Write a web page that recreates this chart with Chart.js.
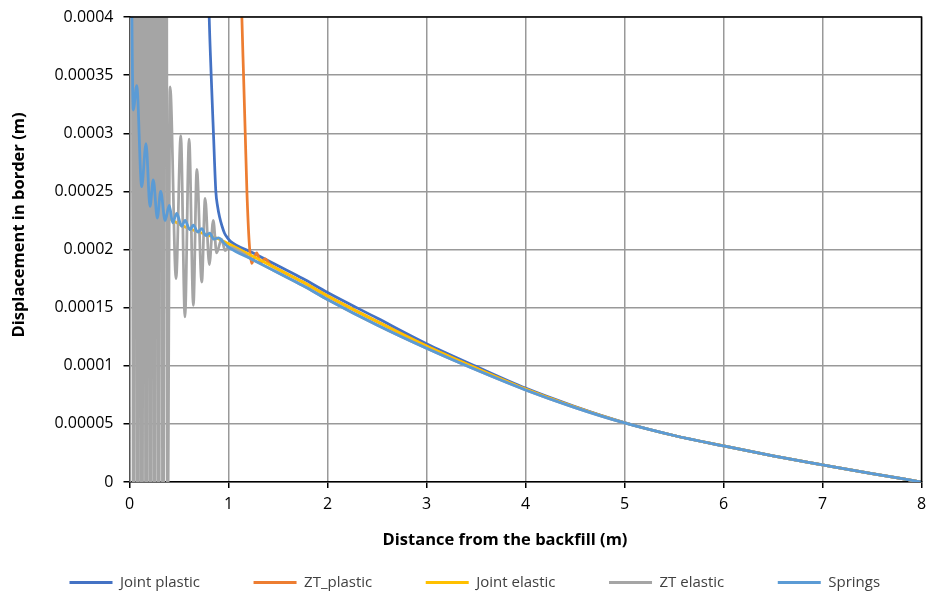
<!DOCTYPE html>
<html><head><meta charset="utf-8">
<script src="https://cdn.jsdelivr.net/npm/chart.js@4"></script>
<style>html,body{margin:0;padding:0;background:#fff}#wrap{width:927px;height:592px;position:relative}</style>
</head><body><div id="wrap"><canvas id="c"></canvas></div>
<script>
// ---- data ----
const seriesNames = ['Joint plastic', 'ZT_plastic', 'Joint elastic', 'ZT elastic', 'Springs'];
const seriesColors = ['#4472C4', '#ED7D31', '#FFC000', '#A5A5A5', '#5B9BD5'];

const xTickLabels = ['0', '1', '2', '3', '4', '5', '6', '7', '8'];
const yTickLabels = ['0', '0.00005', '0.0001', '0.00015', '0.0002', '0.00025', '0.0003', '0.00035', '0.0004'];

const jointPlasticX = [0.80, 0.805, 0.825, 0.848, 0.872, 0.89, 0.91, 0.935, 0.96, 0.99, 1.02, 1.25, 1.5, 1.75, 2.0, 2.5, 3.0, 3.5, 4.0, 4.5, 5.0, 5.5, 6.0, 6.5, 7.0, 7.5, 8.0];
const jointPlasticY = [0.00042, 0.0004, 0.00035, 0.0003, 0.00025, 0.000237, 0.000228, 0.00022, 0.000214, 0.00021, 0.000207, 0.000197, 0.000186, 0.000175, 0.000163, 0.000141, 0.000119, 0.0000995, 0.0000808, 0.000065, 0.0000512, 0.00004, 0.000031, 0.0000225, 0.0000148, 0.0000072, 0];

const ztPlasticX = [1.13, 1.135, 1.152, 1.169, 1.186, 1.21, 1.234, 1.26, 1.285, 1.325, 1.37, 1.42, 1.5, 1.75, 2.0, 2.5, 3.0, 3.5, 4.0, 4.5, 5.0, 5.5, 6.0, 6.5, 7.0, 7.5, 8.0];
const ztPlasticY = [0.00042, 0.0004, 0.00035, 0.0003, 0.00025, 0.000205, 0.000188, 0.000193, 0.000197, 0.000189, 0.000192, 0.000187, 0.000183, 0.000172, 0.00016, 0.000138, 0.000117, 0.000098, 0.00008, 0.0000645, 0.000051, 0.00004, 0.000031, 0.0000225, 0.0000148, 0.0000072, 0];

const jointElasticX = [0.08, 0.083, 0.095, 0.106, 0.13, 0.16, 0.2, 0.25, 0.3, 0.4, 0.5, 0.6, 0.7, 0.8, 0.9, 1.0, 1.25, 1.5, 1.75, 2.0, 2.5, 3.0, 3.5, 4.0, 4.5, 5.0, 5.5, 6.0, 6.5, 7.0, 7.5, 8.0];
const jointElasticY = [0.00043, 0.0004, 0.00034, 0.000307, 0.000285, 0.000265, 0.00025, 0.00024, 0.000234, 0.000227, 0.000222, 0.000218, 0.000215, 0.000212, 0.000209, 0.000205, 0.000194, 0.000183, 0.000172, 0.00016, 0.000138, 0.000117, 0.000098, 0.00008, 0.0000645, 0.000051, 0.00004, 0.000031, 0.0000225, 0.0000148, 0.0000072, 0];

const ztElasticX = [0, 0.022, 0.042, 0.063, 0.085, 0.106, 0.126, 0.146, 0.168, 0.19, 0.21, 0.23, 0.252, 0.274, 0.295, 0.315, 0.34, 0.364, 0.385, 0.41, 0.47, 0.518, 0.56, 0.602, 0.645, 0.68, 0.73, 0.764, 0.806, 0.846, 0.88, 0.93, 0.965, 1.0, 1.25, 1.5, 1.75, 2.0, 2.5, 3.0, 3.5, 4.0, 4.5, 5.0, 5.5, 6.0, 6.5, 7.0, 7.5, 8.0];
const ztElasticY = [0, 0.0012, -0.0003, 0.0012, -0.0003, 0.0012, -0.0003, 0.0012, -0.0003, 0.0012, -0.0003, 0.0012, -0.0003, 0.0012, -0.0003, 0.0012, -0.0003, 0.0012, -0.00005, 0.00034, 0.000175, 0.000298, 0.000142, 0.000295, 0.000152, 0.000269, 0.000172, 0.000244, 0.000187, 0.000225, 0.000197, 0.000209, 0.000199, 0.000202, 0.000191, 0.00018, 0.000169, 0.000157, 0.000135, 0.000115, 0.0000965, 0.0000792, 0.000064, 0.0000508, 0.00004, 0.000031, 0.0000225, 0.0000148, 0.0000072, 0];

const springsX = [0.015, 0.038, 0.073, 0.123, 0.167, 0.207, 0.24, 0.281, 0.315, 0.359, 0.402, 0.436, 0.477, 0.527, 0.561, 0.611, 0.644, 0.69, 0.73, 0.77, 0.81, 0.85, 0.9, 0.95, 1.0, 1.25, 1.5, 1.75, 2.0, 2.5, 3.0, 3.5, 4.0, 4.5, 5.0, 5.5, 6.0, 6.5, 7.0, 7.5, 8.0];
const springsY = [0.00048, 0.00032, 0.000341, 0.000254, 0.000291, 0.000237, 0.00026, 0.000227, 0.00025, 0.000225, 0.000238, 0.000223, 0.000231, 0.00022, 0.000225, 0.000217, 0.000221, 0.000215, 0.000218, 0.000212, 0.000214, 0.000209, 0.00021, 0.000206, 0.000202, 0.000191, 0.00018, 0.000169, 0.000157, 0.000135, 0.000115, 0.0000965, 0.0000792, 0.000064, 0.0000508, 0.00004, 0.000031, 0.0000225, 0.0000148, 0.0000072, 0];

const xTitle = 'Distance from the backfill (m)';
const yTitle = 'Displacement in border (m)';

// ---- build chart ----
const seriesX = [jointPlasticX, ztPlasticX, jointElasticX, ztElasticX, springsX];
const seriesY = [jointPlasticY, ztPlasticY, jointElasticY, ztElasticY, springsY];

const datasets = seriesNames.map((name, k) => ({
  label: name,
  data: seriesX[k].map((x, i) => ({ x: x, y: seriesY[k][i] })),
  borderColor: seriesColors[k],
  backgroundColor: seriesColors[k],
  borderWidth: 2.75,
  pointRadius: 0,
  fill: false,
  cubicInterpolationMode: 'monotone',
  order: seriesNames.length - 1 - k
}));

const FONT = "'Open Sans'";

const framePlugin = {
  id: 'frame',
  afterLayout(chart) {
    const lg = chart.legend;
    if (lg) { lg.left += 16; lg.right += 16; }
  },
  afterDatasetsDraw(chart) {
    const { ctx, chartArea: a } = chart;
    ctx.save();
    ctx.strokeStyle = '#000';
    ctx.lineWidth = 1.5;
    ctx.beginPath();
    ctx.moveTo(a.left, a.top);
    ctx.lineTo(a.right, a.top);
    ctx.lineTo(a.right, a.bottom);
    ctx.stroke();
    ctx.restore();
  },
  afterDraw(chart) {
    const ctx = chart.ctx;
    ctx.save();
    ctx.fillStyle = '#000';
    ctx.font = 'bold 16.5px ' + FONT;
    ctx.textAlign = 'center';
    ctx.textBaseline = 'middle';
    ctx.fillText(xTitle, 505, 540);
    ctx.translate(19.5, 225);
    ctx.rotate(-Math.PI / 2);
    ctx.fillText(yTitle, 0, 0);
    ctx.restore();
  }
};

const padBottom = -8;
new Chart(document.getElementById('c'), {
  type: 'line',
  data: { datasets: datasets },
  plugins: [framePlugin],
  options: {
    responsive: true,
    maintainAspectRatio: false,
    animation: false,
    events: [],
    layout: { padding: { left: 0, right: 5.5, top: 17, bottom: padBottom } },
    plugins: {
      tooltip: { enabled: false },
      legend: {
        position: 'bottom',
        align: 'start',
        reverse: true,
        labels: {
          boxWidth: 43,
          boxHeight: 3,
          padding: 53.5,
          color: '#404040',
          font: { family: FONT, size: 15 },
          generateLabels(chart) {
            return Chart.defaults.plugins.legend.labels.generateLabels(chart)
              .map(l => Object.assign(l, { lineWidth: 0 }));
          }
        }
      }
    },
    scales: {
      x: {
        type: 'linear',
        min: 0,
        max: 8,
        ticks: {
          stepSize: 1,
          padding: 7,
          color: '#000',
          font: { family: FONT, size: 16 },
          callback: (v, i) => xTickLabels[i]
        },
        grid: { color: '#999', lineWidth: 1.5, tickColor: '#000', tickLength: 6, tickWidth: 1.5 },
        border: { color: '#000', width: 1.5 },
        afterFit(s) {
          s.height = s.chart.height - padBottom - s.chart.legend.height - 482;
          s.paddingLeft = 0;
          s.paddingRight = 0;
        }
      },
      y: {
        min: 0,
        max: 0.0004,
        ticks: {
          stepSize: 0.00005,
          padding: 10,
          color: '#000',
          font: { family: FONT, size: 16 },
          callback: (v, i) => yTickLabels[i]
        },
        grid: { color: '#999', lineWidth: 1.5, tickColor: '#000', tickLength: 6, tickWidth: 1.5 },
        border: { color: '#000', width: 1.5 },
        afterFit(s) { s.width = 129.5; s.paddingTop = 0; s.paddingBottom = 0; }
      }
    }
  }
});
</script>
</body></html>
